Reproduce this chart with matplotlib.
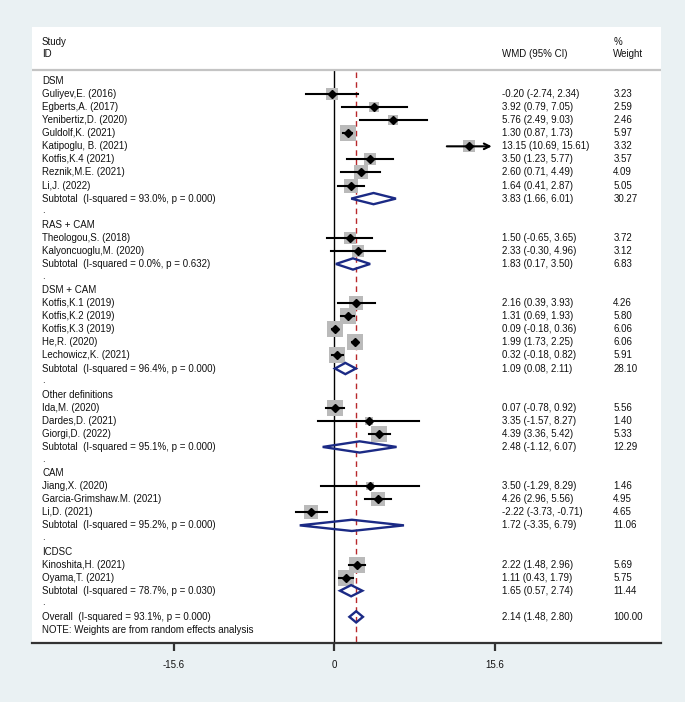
import matplotlib.pyplot as plt
from matplotlib.patches import Polygon

plt.rcParams['font.family'] = ['Liberation Sans', 'DejaVu Sans']

# ---- data ----
groups = ["DSM", "RAS + CAM", "DSM + CAM", "Other definitions", "CAM", "ICDSC"]

study_labels = [
    "Guliyev,E. (2016)", "Egberts,A. (2017)", "Yenibertiz,D. (2020)", "Guldolf,K. (2021)",
    "Katipoglu, B. (2021)", "Kotfis,K.4 (2021)", "Reznik,M.E. (2021)", "Li,J. (2022)",
    "Theologou,S. (2018)", "Kalyoncuoglu,M. (2020)",
    "Kotfis,K.1 (2019)", "Kotfis,K.2 (2019)", "Kotfis,K.3 (2019)", "He,R. (2020)", "Lechowicz,K. (2021)",
    "Ida,M. (2020)", "Dardes,D. (2021)", "Giorgi,D. (2022)",
    "Jiang,X. (2020)", "Garcia-Grimshaw.M. (2021)", "Li,D. (2021)",
    "Kinoshita,H. (2021)", "Oyama,T. (2021)",
]
study_group = [0] * 8 + [1] * 2 + [2] * 5 + [3] * 3 + [4] * 3 + [5] * 2
wmd = [-0.20, 3.92, 5.76, 1.30, 13.15, 3.50, 2.60, 1.64,
       1.50, 2.33,
       2.16, 1.31, 0.09, 1.99, 0.32,
       0.07, 3.35, 4.39,
       3.50, 4.26, -2.22,
       2.22, 1.11]
ci_lo = [-2.74, 0.79, 2.49, 0.87, 10.69, 1.23, 0.71, 0.41,
         -0.65, -0.30,
         0.39, 0.69, -0.18, 1.73, -0.18,
         -0.78, -1.57, 3.36,
         -1.29, 2.96, -3.73,
         1.48, 0.43]
ci_hi = [2.34, 7.05, 9.03, 1.73, 15.61, 5.77, 4.49, 2.87,
         3.65, 4.96,
         3.93, 1.93, 0.36, 2.25, 0.82,
         0.92, 8.27, 5.42,
         8.29, 5.56, -0.71,
         2.96, 1.79]
weights = [3.23, 2.59, 2.46, 5.97, 3.32, 3.57, 4.09, 5.05,
           3.72, 3.12,
           4.26, 5.80, 6.06, 6.06, 5.91,
           5.56, 1.40, 5.33,
           1.46, 4.95, 4.65,
           5.69, 5.75]

sub_i2 = [93.0, 0.0, 96.4, 95.1, 95.2, 78.7]
sub_p = [0.000, 0.632, 0.000, 0.000, 0.000, 0.030]
sub_wmd = [3.83, 1.83, 1.09, 2.48, 1.72, 1.65]
sub_lo = [1.66, 0.17, 0.08, -1.12, -3.35, 0.57]
sub_hi = [6.01, 3.50, 2.11, 6.07, 6.79, 2.74]
sub_weight = [30.27, 6.83, 28.10, 12.29, 11.06, 11.44]

overall_i2, overall_p = 93.1, 0.000
overall_wmd, overall_lo, overall_hi, overall_weight = 2.14, 1.48, 2.80, 100.00

xticks = [-15.6, 0, 15.6]
xmax_clip = 15.6

# ---- figure ----
W, H = 685, 702
fig = plt.figure(figsize=(W / 100, H / 100), dpi=100)
fig.patch.set_facecolor('#eaf1f3')
ax = fig.add_axes([32 / W, 1 - 643 / H, 629 / W, 616 / H])
ax.set_facecolor('white')
ax.set_xlim(-29.4, 31.8)
ax.set_ylim(44.0, -3.13)

tr = ax.get_yaxis_transform()
fs = 7.0
txt_kw = dict(fontsize=fs, color='#111111', va='center', transform=tr)
x_lab, x_ci, x_w = 0.0159, 0.747, 0.924
navy = '#1b2a85'


def fmt_ci(e, lo, hi):
    return f"{e:.2f} ({lo:.2f}, {hi:.2f})"


def diamond(e, lo, hi, y, h=0.43):
    ax.add_patch(Polygon([(lo, y), (e, y - h), (hi, y), (e, y + h)], closed=True,
                         fill=False, edgecolor=navy, lw=1.7, zorder=4))


# header
ax.text(x_lab, -1.98, "Study", **txt_kw)
ax.text(x_lab, -1.07, "ID", **txt_kw)
ax.text(x_ci, -1.07, "WMD (95% CI)", **txt_kw)
ax.text(x_w, -1.98, "%", **txt_kw)
ax.text(x_w, -1.07, "Weight", **txt_kw)
ax.axhline(0.16, color='#c4c4c4', lw=1.6)

row = 1
for g, name in enumerate(groups):
    ax.text(x_lab, row, name, **txt_kw)
    row += 1
    for i in range(len(study_labels)):
        if study_group[i] != g:
            continue
        ax.text(x_lab, row, study_labels[i], **txt_kw)
        ax.text(x_ci, row, fmt_ci(wmd[i], ci_lo[i], ci_hi[i]), **txt_kw)
        ax.text(x_w, row, f"{weights[i]:.2f}", **txt_kw)
        ax.scatter([wmd[i]], [row], marker='s', s=22 * weights[i], color='#bababa',
                   linewidths=0, zorder=2)
        if ci_hi[i] > xmax_clip:
            ax.annotate('', xy=(xmax_clip, row), xytext=(ci_lo[i], row),
                        arrowprops=dict(arrowstyle='->', lw=1.5, color='black',
                                        mutation_scale=10), zorder=3)
        else:
            ax.plot([ci_lo[i], ci_hi[i]], [row, row], color='black', lw=1.5, zorder=3)
        ax.plot([wmd[i]], [row], marker='D', ms=4.2, color='black', zorder=5)
        row += 1
    ax.text(x_lab, row, f"Subtotal  (I-squared = {sub_i2[g]:.1f}%, p = {sub_p[g]:.3f})", **txt_kw)
    ax.text(x_ci, row, fmt_ci(sub_wmd[g], sub_lo[g], sub_hi[g]), **txt_kw)
    ax.text(x_w, row, f"{sub_weight[g]:.2f}", **txt_kw)
    diamond(sub_wmd[g], sub_lo[g], sub_hi[g], row)
    row += 1
    ax.text(x_lab, row - 0.1, ".", **txt_kw)
    row += 1

ax.text(x_lab, row, f"Overall  (I-squared = {overall_i2:.1f}%, p = {overall_p:.3f})", **txt_kw)
ax.text(x_ci, row, fmt_ci(overall_wmd, overall_lo, overall_hi), **txt_kw)
ax.text(x_w, row, f"{overall_weight:.2f}", **txt_kw)
diamond(overall_wmd, overall_lo, overall_hi, row)
ax.text(x_lab, row + 1, "NOTE: Weights are from random effects analysis", **txt_kw)

# reference lines
ax.plot([0, 0], [0.16, 44.0], color='black', lw=1.0, zorder=1)
ax.plot([overall_wmd, overall_wmd], [0.35, 44.0], color='#b8282b', lw=1.0,
        dashes=(4, 3), zorder=1)

# axis
for s in ['top', 'left', 'right']:
    ax.spines[s].set_visible(False)
ax.spines['bottom'].set_color('#333333')
ax.spines['bottom'].set_linewidth(1.6)
ax.set_yticks([])
ax.set_xticks(xticks)
ax.set_xticklabels([f"{t:g}" for t in xticks])
ax.tick_params(axis='x', direction='out', length=6, width=1.6, color='#333333',
               labelsize=fs, labelcolor='#111111', pad=6)

fig.savefig('out.png', dpi=100, facecolor=fig.get_facecolor())
